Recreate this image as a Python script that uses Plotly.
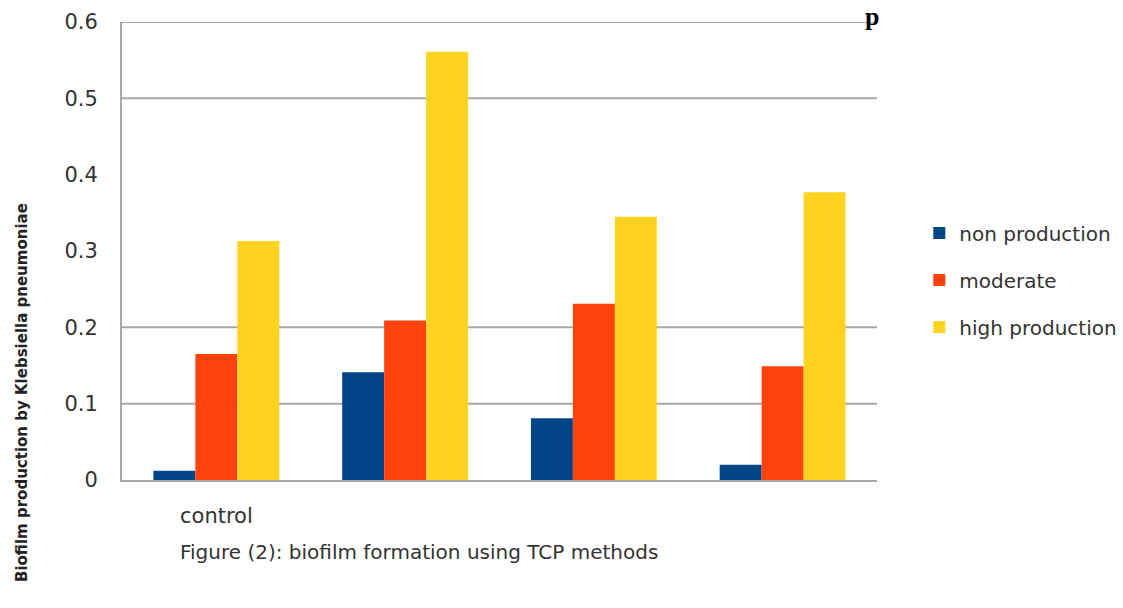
import plotly.graph_objects as go

categories = ["control", "", "", ""]
series_names = ["non production", "moderate", "high production"]
non_production = [0.012, 0.141, 0.081, 0.020]
moderate = [0.165, 0.209, 0.231, 0.149]
high_production = [0.313, 0.561, 0.345, 0.377]
colors = ["#004586", "#ff420e", "#ffd320"]
y_ticks = [0, 0.1, 0.2, 0.3, 0.4, 0.5, 0.6]
y_tick_labels = ["0", "0.1", "0.2", "0.3", "0.4", "0.5", "0.6"]
grid_values = [0.1, 0.2, 0.5, 0.6]

x_pos = list(range(len(categories)))
FONT = "DejaVu Sans"
GRID = "#a8a8a8"

fig = go.Figure()
for i, (name, vals) in enumerate(zip(series_names, [non_production, moderate, high_production])):
    fig.add_trace(go.Bar(x=x_pos, y=vals, name=name, marker=dict(color=colors[i], line=dict(width=0)),
                         legendgroup=name))

shapes = []
for v in grid_values:
    shapes.append(dict(type="line", xref="paper", x0=0, x1=1, yref="y", y0=v, y1=v,
                       line=dict(color=GRID, width=2), layer="below"))

fig.update_layout(
    width=1123, height=608,
    margin=dict(l=122, r=246, t=22, b=128, autoexpand=False),
    paper_bgcolor="white", plot_bgcolor="white",
    barmode="group", bargap=0.333, bargroupgap=0,
    font=dict(family=FONT, color="#333333", size=20),
    shapes=shapes,
    showlegend=True,
    legend=dict(x=1.056, xanchor="left", y=0.582, yanchor="top",
                font=dict(family=FONT, size=20, color="#333333"),
                traceorder="grouped", tracegroupgap=18, itemwidth=30,
                bgcolor="rgba(0,0,0,0)"),
    xaxis=dict(tickmode="array", tickvals=x_pos, ticktext=categories, range=[-0.5, 3.5],
               showline=True, linecolor=GRID, linewidth=2, showgrid=False, zeroline=False,
               ticks="", ticklabelstandoff=16, tickfont=dict(family=FONT, size=21, color="#333333")),
    yaxis=dict(tickmode="array", tickvals=y_ticks, ticktext=y_tick_labels, range=[0, 0.6],
               showline=True, linecolor=GRID, linewidth=2, showgrid=False, zeroline=False,
               ticks="", ticklabelstandoff=18, tickfont=dict(family=FONT, size=21, color="#333333")),
    annotations=[
        dict(text="Figure (2): biofilm formation using TCP methods", xref="paper", yref="paper",
             x=0.393, y=-0.157, xanchor="center", yanchor="middle", showarrow=False,
             font=dict(family=FONT, size=20, color="#333333")),
        dict(text="<b>Biofilm production by Klebsiella pneumoniae</b>", xref="paper", yref="paper",
             x=-0.1325, y=0.192, xanchor="center", yanchor="middle", textangle=-90, showarrow=False,
             font=dict(family=FONT, size=15, color="#222222")),
        dict(text="<b>p</b>", xref="paper", yref="paper", x=0.9934, y=1.048, xanchor="center",
             yanchor="top", yshift=0, showarrow=False,
             font=dict(family="Liberation Serif", size=26, color="#000000")),
    ],
)

fig.write_html("out.html")
